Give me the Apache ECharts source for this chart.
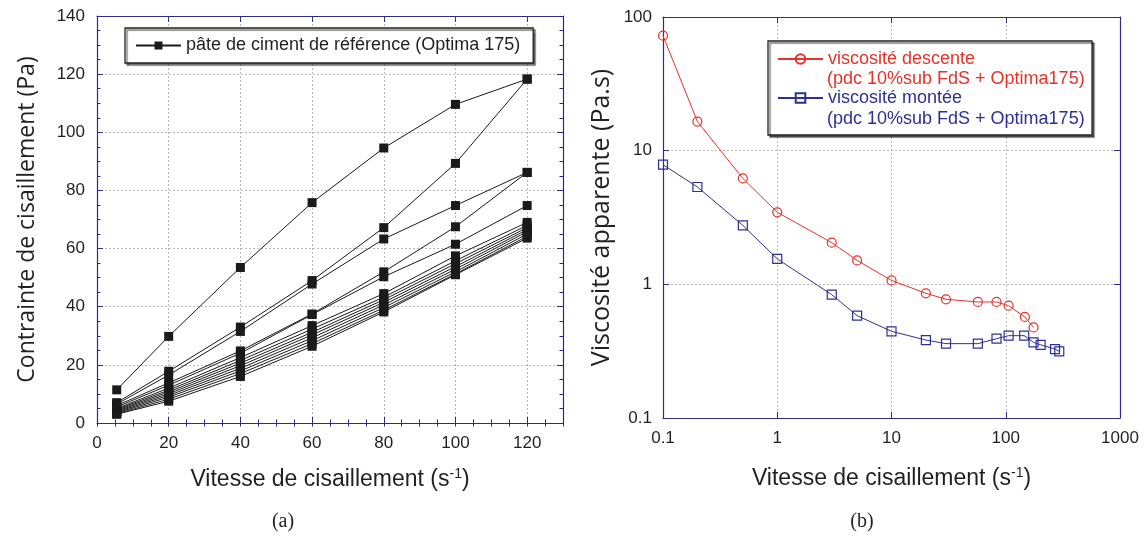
<!DOCTYPE html>
<html>
<head>
<meta charset="utf-8">
<script src="https://cdn.jsdelivr.net/npm/echarts@6/dist/echarts.min.js"></script>
<style>
html,body{margin:0;padding:0;background:#fff;}
#chart{width:1144px;height:538px;}
</style>
</head>
<body>
<div id="chart"></div>
<script>
// ---------- (a) shear stress vs shear rate ----------
const shearRates = [5.5, 20, 40, 60, 80, 100, 120];
const curve1  = [11.4, 29.8, 53.5, 75.8, 94.6, 109.6, 118.3];
const curve2  = [7.0, 17.8, 33.0, 49.0, 67.2, 89.3, 118.3];
const curve3  = [6.5, 16.5, 31.5, 47.8, 63.3, 74.8, 86.2];
const curve4  = [6.0, 13.8, 24.8, 37.5, 52.0, 67.5, 86.2];
const curve5  = [5.5, 13.0, 24.0, 37.3, 50.3, 61.5, 74.8];
const curve6  = [5.0, 12.0, 22.5, 33.5, 44.5, 57.5, 69.0];
const curve7  = [4.7, 11.3, 21.5, 32.3, 43.3, 55.8, 68.0];
const curve8  = [4.4, 10.7, 20.6, 31.2, 42.4, 54.8, 67.2];
const curve9  = [4.1, 10.1, 19.7, 30.3, 41.5, 53.8, 66.5];
const curve10 = [3.8, 9.5, 18.8, 29.3, 40.6, 52.9, 65.8];
const curve11 = [3.5, 8.9, 17.9, 28.3, 39.7, 52.0, 65.0];
const curve12 = [3.2, 8.2, 17.0, 27.3, 38.8, 51.3, 64.2];
const curve13 = [3.0, 7.5, 16.0, 26.4, 38.2, 51.0, 63.6];
const stressCurves = [curve1, curve2, curve3, curve4, curve5, curve6, curve7,
                      curve8, curve9, curve10, curve11, curve12, curve13];
const legendA = 'pâte de ciment de référence (Optima 175)';

// ---------- (b) apparent viscosity vs shear rate ----------
const rateDesc = [0.1, 0.2, 0.5, 1, 3, 5, 10, 20, 30, 57, 83, 106, 147, 175];
const viscDesc = [72.5, 16.5, 6.2, 3.46, 2.05, 1.51, 1.07, 0.857, 0.773, 0.738, 0.738, 0.692, 0.570, 0.476];
const rateUp = [0.1, 0.2, 0.5, 1, 3, 5, 10, 20, 30, 57, 83, 106, 145, 175, 202, 270, 294];
const viscUp = [7.85, 5.35, 2.76, 1.55, 0.837, 0.583, 0.445, 0.383, 0.360, 0.360, 0.392, 0.413, 0.413, 0.368, 0.353, 0.328, 0.315];
const nameDesc = 'viscosité descente';
const nameUp = 'viscosité montée';
const subLabel = '(pdc 10%sub FdS + Optima175)';

const RED = '#e5332a';
const BLUE = '#2e3192';
const NAVY = '#2b2d86';
const TXT = '#231f20';
const GRIDC = '#b8b8b8';
const SANS = 'Liberation Sans, Arial, sans-serif';
const HUMAN = 'Open Sans, Noto Sans, sans-serif';

function pairs(xs, ys){ return xs.map((x,i)=>[x, ys[i]]); }

const chart = echarts.init(document.getElementById('chart'), null, {renderer:'canvas'});

const splitStyle = {show:true, lineStyle:{color:GRIDC, type:[2,2], width:1}};
const tickLbl = {color:TXT, fontFamily:SANS, fontSize:17};
const xName = {
  rich:{
    a:{fontFamily:SANS, fontSize:23, color:TXT, lineHeight:26},
    b:{fontFamily:SANS, fontSize:14, color:TXT, verticalAlign:'top', lineHeight:26}
  }
};

function frameAxis(extra){
  return Object.assign({
    axisLine:{show:true, onZero:false, lineStyle:{color:NAVY, width:1.2}},
    axisTick:{show:true, inside:true, length:6, lineStyle:{color:NAVY, width:1}},
    axisLabel:{show:false},
    splitLine:{show:false}
  }, extra);
}
function minorAxis(extra){
  return Object.assign({
    axisLine:{show:false},
    axisTick:{show:true, inside:true, length:3.5, lineStyle:{color:NAVY, width:1}},
    axisLabel:{show:false},
    splitLine:{show:false}
  }, extra);
}

const seriesA = stressCurves.map((c)=>({
  type:'line', name:legendA, xAxisIndex:0, yAxisIndex:0,
  data:pairs(shearRates, c),
  symbol:'rect', symbolSize:9,
  itemStyle:{color:'#1a1a1a'},
  lineStyle:{color:'#1a1a1a', width:1},
  animation:false
}));

const option = {
  animation:false,
  backgroundColor:'#fff',
  grid:[
    {left:97, top:16, width:466, height:407},
    {left:663, top:17, width:457, height:401}
  ],
  xAxis:[
    frameAxis({gridIndex:0, type:'value', position:'bottom', min:0, max:130, interval:20,
      axisLabel:Object.assign({show:true, margin:12, formatter:v=> (v%20===0 ? String(v) : '')}, tickLbl),
      splitLine:splitStyle,
      name:'{a|Vitesse de cisaillement (s}{b|-1}{a|)}', nameLocation:'middle', nameGap:44,
      nameTextStyle:xName}),
    minorAxis({gridIndex:0, type:'value', position:'bottom', min:0, max:130, interval:5}),
    frameAxis({gridIndex:0, type:'value', position:'top', min:0, max:130, interval:20}),
    minorAxis({gridIndex:0, type:'value', position:'top', min:0, max:130, interval:5}),
    frameAxis({gridIndex:1, type:'log', logBase:10, position:'bottom', min:0.1, max:1000,
      axisLabel:Object.assign({show:true, margin:12, formatter:v=>String(v)}, tickLbl),
      splitLine:splitStyle,
      name:'{a|Vitesse de cisaillement (s}{b|-1}{a|)}', nameLocation:'middle', nameGap:48,
      nameTextStyle:xName}),
    frameAxis({gridIndex:1, type:'log', logBase:10, position:'top', min:0.1, max:1000})
  ],
  yAxis:[
    frameAxis({gridIndex:0, type:'value', position:'left', min:0, max:140, interval:20,
      axisLabel:Object.assign({show:true, margin:12}, tickLbl),
      splitLine:splitStyle,
      minorTick:{show:true, splitNumber:4, length:3.5, lineStyle:{color:NAVY, width:1}},
      name:'Contrainte de cisaillement (Pa)', nameLocation:'middle', nameGap:58,
      nameTextStyle:{fontFamily:HUMAN, fontSize:23, color:TXT}}),
    frameAxis({gridIndex:0, type:'value', position:'right', min:0, max:140, interval:20,
      minorTick:{show:true, splitNumber:4, length:3.5, lineStyle:{color:NAVY, width:1}}}),
    frameAxis({gridIndex:1, type:'log', logBase:10, position:'left', min:0.1, max:100,
      axisLabel:Object.assign({show:true, margin:11, formatter:v=>String(v)}, tickLbl),
      splitLine:splitStyle,
      name:'Viscosité apparente (Pa.s)', nameLocation:'middle', nameGap:49,
      nameTextStyle:{fontFamily:HUMAN, fontSize:25, color:TXT}}),
    frameAxis({gridIndex:1, type:'log', logBase:10, position:'right', min:0.1, max:100})
  ],
  legend:[
    {
      data:[legendA], left:125, top:28, orient:'horizontal',
      itemWidth:45, itemHeight:10, itemGap:5,
      padding:[8,13,8,10],
      backgroundColor:'#fff', borderColor:'#222', borderWidth:1.3,
      shadowColor:'rgba(0,0,0,0.55)', shadowOffsetX:2, shadowOffsetY:2, shadowBlur:1,
      textStyle:{fontFamily:SANS, fontSize:18, color:TXT, lineHeight:19},
      selectedMode:false
    },
    {
      data:[{name:nameDesc, textStyle:{color:RED}}, {name:nameUp, textStyle:{color:BLUE}}],
      left:777, top:49, orient:'vertical',
      itemWidth:45, itemHeight:12, itemGap:19,
      padding:0,
      textStyle:{fontFamily:SANS, fontSize:18, lineHeight:20},
      selectedMode:false, z:6
    }
  ],
  graphic:[
    {type:'rect', z:3, shape:{x:768, y:41, width:324, height:94},
      style:{fill:'#fff', stroke:'#222', lineWidth:1.3, shadowColor:'rgba(0,0,0,0.55)', shadowOffsetX:2, shadowOffsetY:2, shadowBlur:1}},
    {type:'text', z:7, x:827, y:79, style:{text:subLabel, fill:RED, font:'18px Liberation Sans, Arial, sans-serif', verticalAlign:'middle'}},
    {type:'text', z:7, x:827, y:119, style:{text:subLabel, fill:BLUE, font:'18px Liberation Sans, Arial, sans-serif', verticalAlign:'middle'}},
    {type:'text', z:7, x:283, y:522, style:{text:'(a)', fill:TXT, font:'20px Liberation Serif, Times New Roman, serif', align:'center', verticalAlign:'middle'}},
    {type:'text', z:7, x:862, y:522, style:{text:'(b)', fill:TXT, font:'20px Liberation Serif, Times New Roman, serif', align:'center', verticalAlign:'middle'}}
  ],
  series: seriesA.concat([
    {type:'line', name:nameDesc, xAxisIndex:4, yAxisIndex:2,
      data:pairs(rateDesc, viscDesc),
      symbol:'circle', symbolSize:9,
      itemStyle:{color:'rgba(255,255,255,0)', borderColor:RED, borderWidth:1.2},
      lineStyle:{color:RED, width:1}},
    {type:'line', name:nameUp, xAxisIndex:4, yAxisIndex:2,
      data:pairs(rateUp, viscUp),
      symbol:'rect', symbolSize:9,
      itemStyle:{color:'rgba(255,255,255,0)', borderColor:BLUE, borderWidth:1.2},
      lineStyle:{color:BLUE, width:1}}
  ])
};
chart.setOption(option);
</script>
</body>
</html>
